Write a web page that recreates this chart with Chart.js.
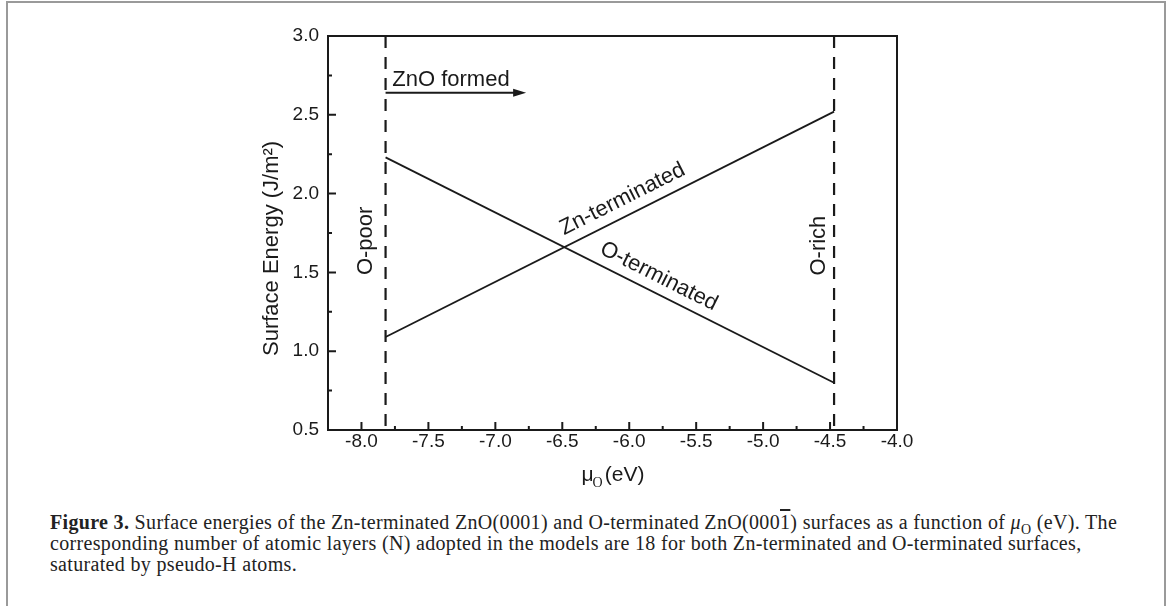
<!DOCTYPE html>
<html>
<head>
<meta charset="utf-8">
<script src="https://cdn.jsdelivr.net/npm/chart.js@4.4.0/dist/chart.umd.min.js"></script>
<style>
  body { margin: 0; background: #fff; width: 1170px; height: 606px; overflow: hidden; position: relative; }
  #frame { position: absolute; left: 6px; top: 1px; width: 1156px; height: 640px; border: 2px solid #9a9a9a; border-bottom: none; }
  #wrap { position: absolute; left: 0; top: 0; width: 1170px; height: 500px; }
  #caption { position: absolute; left: 50px; top: 512px; font-family: "Liberation Serif", serif; font-size: 20px; line-height: 21px; color: #222; white-space: nowrap; letter-spacing: 0.33px; }
  #caption sub { font-size: 14px; line-height: 0; }
  .ov { text-decoration: overline; }
</style>
</head>
<body>
<div id="frame"></div>
<div id="wrap"><canvas id="chart" width="1170" height="500"></canvas></div>
<div id="caption">
  <b>Figure 3.</b> Surface energies of the Zn-terminated ZnO(0001) and O-terminated ZnO(000<span class="ov">1</span>) surfaces as a function of <i>μ</i><sub>O</sub> (eV). The<br>
  corresponding number of atomic layers (N) adopted in the models are 18 for both Zn-terminated and O-terminated surfaces,<br>
  saturated by pseudo-H atoms.
</div>
<script>
// Oxygen chemical potential at the two limits (eV)
const muO = [-7.82, -4.47];
// Surface energies (J/m^2) at those limits
const znTerminated = [1.09, 2.52];
const oTerminated = [2.23, 0.80];

// Vertical dashed limits
const oPoorX = -7.82;
const oRichX = -4.47;
const dashSpan = [3.0, 0.5];

// Axis ticks
const xTicks = [-8.0, -7.5, -7.0, -6.5, -6.0, -5.5, -5.0, -4.5, -4.0];
const xMinorTicks = [-7.75, -7.25, -6.75, -6.25, -5.75, -5.25, -4.75, -4.25];
const yTicks = [0.5, 1.0, 1.5, 2.0, 2.5, 3.0];
const yMinorTicks = [0.75, 1.25, 1.75, 2.25, 2.75];

// Text annotations (data position of text anchor)
const arrowFrom = { x: -7.82, y: 2.64 };
const arrowTo = { x: -6.77, y: 2.64 };
const zno = { text: "ZnO formed", x: -7.77, y: 2.68 };
const znLabel = { text: "Zn-terminated", x: -6.03, y: 1.93 };
const oLabel = { text: "O-terminated", x: -5.80, y: 1.44 };
const poorLabel = { text: "O-poor", x: -7.92, y: 1.70 };
const richLabel = { text: "O-rich", x: -4.54, y: 1.67 };

const ink = "#1a1a1a";
const sans = "'Liberation Sans', Arial, sans-serif";

function pts(xs, ys) {
  return xs.map((x, i) => ({ x: x, y: ys[i] }));
}

// Draws the frame, inward ticks, arrow and labels
const decor = {
  id: "decor",
  afterDraw(chart) {
    const { ctx, chartArea: a, scales: { x, y } } = chart;
    ctx.save();
    ctx.strokeStyle = ink;
    ctx.fillStyle = ink;
    ctx.lineWidth = 2;
    ctx.strokeRect(a.left, a.top, a.right - a.left, a.bottom - a.top);

    // ticks pointing into the plot
    ctx.beginPath();
    xTicks.forEach(v => { const px = x.getPixelForValue(v); ctx.moveTo(px, a.bottom); ctx.lineTo(px, a.bottom - 8); });
    xMinorTicks.forEach(v => { const px = x.getPixelForValue(v); ctx.moveTo(px, a.bottom); ctx.lineTo(px, a.bottom - 4); });
    yTicks.forEach(v => { const py = y.getPixelForValue(v); ctx.moveTo(a.left, py); ctx.lineTo(a.left + 8, py); });
    yMinorTicks.forEach(v => { const py = y.getPixelForValue(v); ctx.moveTo(a.left, py); ctx.lineTo(a.left + 4, py); });
    ctx.stroke();

    // arrow
    const x1 = x.getPixelForValue(arrowFrom.x), y1 = y.getPixelForValue(arrowFrom.y);
    const x2 = x.getPixelForValue(arrowTo.x), y2 = y.getPixelForValue(arrowTo.y);
    ctx.lineWidth = 1.8;
    ctx.beginPath();
    ctx.moveTo(x1, y1);
    ctx.lineTo(x2 - 10, y2);
    ctx.stroke();
    ctx.beginPath();
    ctx.moveTo(x2, y2);
    ctx.lineTo(x2 - 13, y2 - 4);
    ctx.lineTo(x2 - 13, y2 + 4);
    ctx.closePath();
    ctx.fill();

    ctx.font = "22px " + sans;
    ctx.textBaseline = "alphabetic";
    ctx.textAlign = "left";
    ctx.fillText(zno.text, x.getPixelForValue(zno.x), y.getPixelForValue(zno.y));

    // labels along the lines
    function along(lbl, xs, ys) {
      const ang = Math.atan2(y.getPixelForValue(ys[1]) - y.getPixelForValue(ys[0]),
                             x.getPixelForValue(xs[1]) - x.getPixelForValue(xs[0]));
      ctx.save();
      ctx.translate(x.getPixelForValue(lbl.x), y.getPixelForValue(lbl.y));
      ctx.rotate(ang);
      ctx.textAlign = "center";
      ctx.fillText(lbl.text, 0, 0);
      ctx.restore();
    }
    along(znLabel, muO, znTerminated);
    along(oLabel, muO, oTerminated);

    function vertical(lbl) {
      ctx.save();
      ctx.translate(x.getPixelForValue(lbl.x), y.getPixelForValue(lbl.y));
      ctx.rotate(-Math.PI / 2);
      ctx.textAlign = "center";
      ctx.fillText(lbl.text, 0, 0);
      ctx.restore();
    }
    vertical(poorLabel);
    vertical(richLabel);

    // axis titles
    ctx.font = "22px " + sans;
    ctx.save();
    ctx.translate(a.left - 50, a.bottom - 74);
    ctx.rotate(-Math.PI / 2);
    ctx.textAlign = "left";
    ctx.fillText("Surface Energy (J/m\u00B2)", 0, 0);
    ctx.restore();

    const tx = (a.left + a.right) / 2 - 31;
    const ty = a.bottom + 51;
    ctx.textAlign = "left";
    ctx.font = "21px " + sans;
    ctx.fillText("\u03BC", tx, ty);
    let w = ctx.measureText("\u03BC").width;
    ctx.font = "14px 'Liberation Serif', serif";
    ctx.fillText("O", tx + w - 1, ty + 6);
    w += ctx.measureText("O").width + 1;
    ctx.font = "21px " + sans;
    ctx.fillText("(eV)", tx + w, ty);
    ctx.restore();
  }
};

const tickFont = { family: sans, size: 19 };

new Chart(document.getElementById("chart"), {
  type: "scatter",
  data: {
    datasets: [
      { label: "Zn-terminated", data: pts(muO, znTerminated), showLine: true, borderColor: ink, borderWidth: 1.8, pointRadius: 0 },
      { label: "O-terminated", data: pts(muO, oTerminated), showLine: true, borderColor: ink, borderWidth: 1.8, pointRadius: 0 },
      { label: "O-poor", data: dashSpan.map(v => ({ x: oPoorX, y: v })), showLine: true, borderColor: ink, borderWidth: 2.2, borderDash: [12, 9], pointRadius: 0 },
      { label: "O-rich", data: dashSpan.map(v => ({ x: oRichX, y: v })), showLine: true, borderColor: ink, borderWidth: 2.2, borderDash: [12, 9], pointRadius: 0 }
    ]
  },
  options: {
    responsive: false,
    animation: false,
    layout: { padding: { left: 258, right: 273, top: 36, bottom: 10 } },
    plugins: { legend: { display: false }, tooltip: { enabled: false } },
    scales: {
      x: {
        type: "linear",
        min: -8.25,
        max: -4.0,
        afterBuildTicks: s => { s.ticks = xTicks.map(v => ({ value: v })); },
        afterFit: s => { s.height = 60; },
        grid: { display: false, drawTicks: false },
        border: { display: false },
        ticks: { font: tickFont, color: ink, padding: 0, maxRotation: 0, autoSkip: false, callback: v => v.toFixed(1) }
      },
      y: {
        type: "linear",
        min: 0.5,
        max: 3.0,
        afterBuildTicks: s => { s.ticks = yTicks.map(v => ({ value: v })); },
        afterFit: s => { s.width = 70; },
        grid: { display: false, drawTicks: false },
        border: { display: false },
        ticks: { font: tickFont, color: ink, padding: 9, autoSkip: false, callback: v => v.toFixed(1) }
      }
    }
  },
  plugins: [decor]
});
</script>
</body>
</html>
